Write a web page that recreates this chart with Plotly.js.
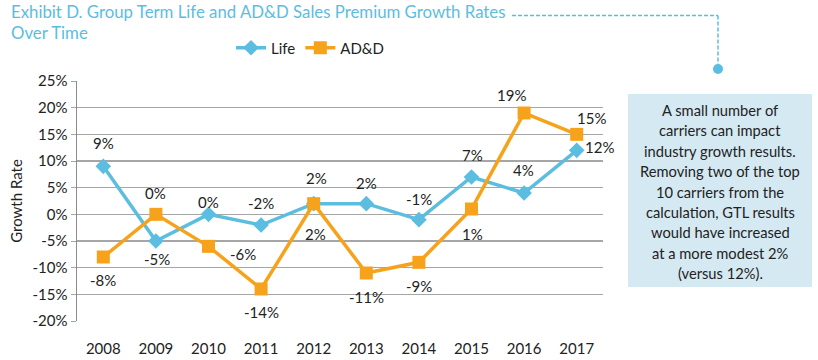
<!DOCTYPE html>
<html><head><meta charset="utf-8">
<script src="https://cdn.plot.ly/plotly-3.0.1.min.js"></script>
<style>html,body{margin:0;padding:0;background:#fff}#c{width:818px;height:360px}</style>
</head><body><div id="c"></div>
<script>
const years = ['2008','2009','2010','2011','2012','2013','2014','2015','2016','2017'];
const life = [9, -5, 0, -2, 2, 2, -1, 7, 4, 12];
const add  = [-8, 0, -6, -14, 2, -11, -9, 1, 19, 15];
const yTicks = [-20,-15,-10,-5,0,5,10,15,20,25];
const titleLines = ['Exhibit D. Group Term Life and AD&D Sales Premium Growth Rates', 'Over Time'];
const noteLines = ['A small number of','carriers can impact','industry growth results.','Removing two of the top','10 carriers from the','calculation, GTL results','would have increased','at a more modest 2%','(versus 12%).'];

// label placement offsets (style, pixels: [dx, dy] with dy downward)
const lifeLabelOffset = [[0,-23],[1,18],[0,-12],[0,-22],[3,-26],[0,-21],[0,-21],[1,-22],[-1,-23],[23,-3]];
const addLabelOffset  = [[0,23],[0,-21],[34,8],[0,23],[2,30],[0,24],[0,24],[1,25],[-13,-18],[15,-16]];

const BLUE = '#5bbde0', ORANGE = '#f7a21b';
const L = 77, R = 603, T = 81, B = 321, W = 818, H = 360;
const px = x => (x - L) / (R - L);
const py = y => (B - y) / (B - T);
const FONT = 'Lato, "Open Sans", sans-serif';

const traces = [
  {x: years, y: life, name: 'Life', type: 'scatter', mode: 'lines+markers',
   line: {color: BLUE, width: 3.5}, marker: {symbol: 'diamond', size: 12, color: BLUE}},
  {x: years, y: add, name: 'AD&D', type: 'scatter', mode: 'lines+markers',
   line: {color: ORANGE, width: 3.5}, marker: {symbol: 'square', size: 13, color: ORANGE}}
];

const annotations = [];
function addLabels(vals, offs) {
  vals.forEach((v, i) => annotations.push({
    xref: 'x', yref: 'y', x: i, y: v, text: v + '%', showarrow: false,
    xanchor: 'center', yanchor: 'middle', xshift: offs[i][0], yshift: -offs[i][1],
    font: {family: FONT, size: 15, color: '#222'}
  }));
}
addLabels(life, lifeLabelOffset);
addLabels(add, addLabelOffset);
titleLines.forEach((t, i) => annotations.push({
  xref: 'paper', yref: 'paper', x: px(9), y: py(12 + i * 20.5), xanchor: 'left', yanchor: 'middle', showarrow: false,
  text: t, font: {family: FONT, size: 16.8, color: BLUE}
}));
noteLines.forEach((t, i) => annotations.push({
  xref: 'paper', yref: 'paper', x: px(720), y: py(110 + i * 20.4), xanchor: 'center', yanchor: 'middle', showarrow: false,
  text: t, font: {family: FONT, size: 14.7, color: '#222'}
}));

const layout = {
  width: W, height: H,
  margin: {l: L, r: W - R, t: T, b: H - B},
  paper_bgcolor: '#fff', plot_bgcolor: '#fff',
  font: {family: FONT, size: 15, color: '#222'},
  showlegend: true,
  legend: {orientation: 'h', x: px(310), xanchor: 'center', y: py(48), yanchor: 'middle',
           font: {size: 15, color: '#222'}, bgcolor: 'rgba(0,0,0,0)', traceorder: 'normal'},
  xaxis: {type: 'category', range: [-0.5, 9.5], showgrid: false, zeroline: false, showline: false,
          ticks: 'outside', ticklen: 14, tickcolor: 'rgba(0,0,0,0)', tickfont: {size: 15, color: '#222'}, fixedrange: true},
  xaxis2: {overlaying: 'x', anchor: 'free', position: py(214), type: 'linear', range: [-0.5, 9.5],
           showline: true, linecolor: '#8c8c8c', linewidth: 1.5, ticks: 'outside', ticklen: 5, tickcolor: '#8c8c8c',
           tickmode: 'array', tickvals: [0.5,1.5,2.5,3.5,4.5,5.5,6.5,7.5,8.5,9.5], showticklabels: false, showgrid: false, zeroline: false, side: 'bottom'},
  yaxis: {range: [-20, 25], tickvals: yTicks, ticktext: yTicks.map(v => v + '%'),
          showgrid: true, gridcolor: '#a6a6a6', gridwidth: 1.5, zeroline: false,
          showline: true, linecolor: '#8c8c8c', linewidth: 1.5, ticks: 'outside', ticklen: 5, tickcolor: '#a6a6a6',
          tickfont: {size: 15, color: '#222'},
          title: {text: 'Growth Rate', font: {size: 15, color: '#222'}, standoff: 6}},
  shapes: [
    {type: 'line', xref: 'paper', yref: 'paper', x0: px(512), y0: py(15.5), x1: px(718), y1: py(15.5), line: {color: BLUE, width: 1.5, dash: '4px,2px'}},
    {type: 'line', xref: 'paper', yref: 'paper', x0: px(718), y0: py(15.5), x1: px(718), y1: py(66), line: {color: BLUE, width: 1.5, dash: '4px,2px'}},
    {type: 'circle', xref: 'paper', yref: 'paper', x0: px(713), y0: py(64), x1: px(723), y1: py(74), fillcolor: BLUE, line: {width: 0}},
    {type: 'rect', xref: 'paper', yref: 'paper', x0: px(628), y0: py(94), x1: px(812), y1: py(287), fillcolor: '#d5e9f3', line: {width: 0}, layer: 'below'}
  ],
  annotations: annotations
};

Plotly.newPlot('c', traces, layout, {displayModeBar: false, staticPlot: true});
</script>
</body></html>
